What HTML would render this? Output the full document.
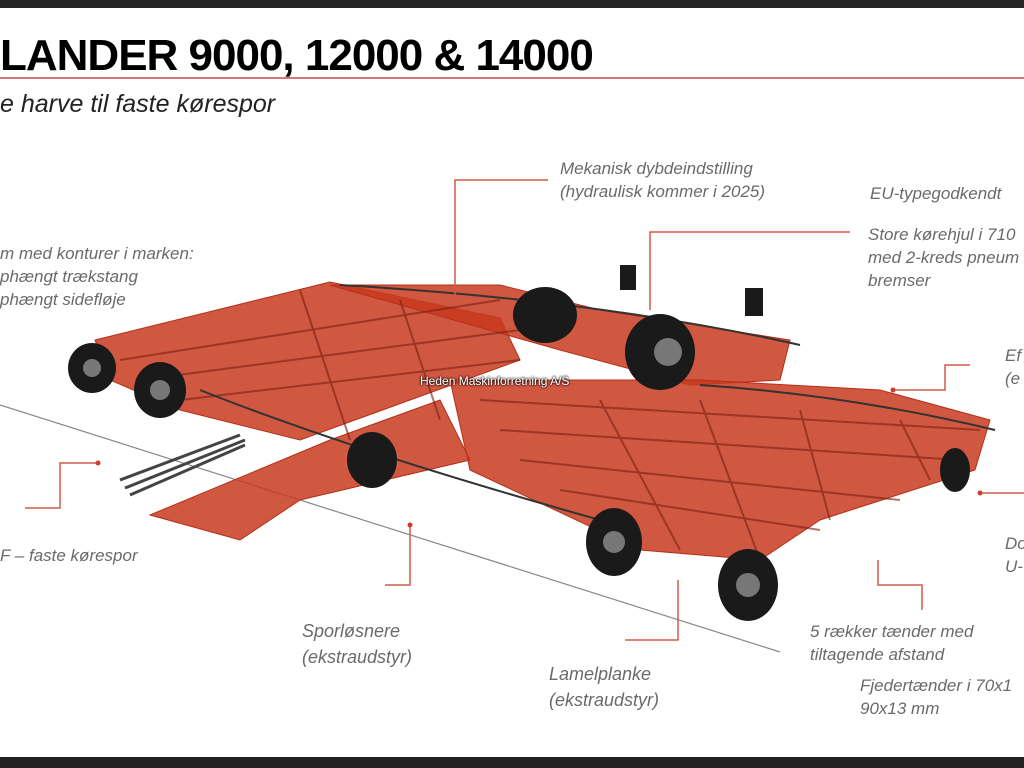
<!DOCTYPE html>
<html><head><meta charset="utf-8"><style>
html,body{margin:0;padding:0;}
body{width:1024px;height:768px;position:relative;overflow:hidden;background:#fff;font-family:"Liberation Sans",sans-serif;}
.t{position:absolute;font-style:italic;color:#6a6a6a;font-size:17px;line-height:23px;white-space:nowrap;}
</style></head><body>
<div style="position:absolute;left:0;top:0;width:1024px;height:8px;background:#262626"></div>
<div style="position:absolute;left:0;top:757px;width:1024px;height:11px;background:#222"></div>
<div style="position:absolute;left:0;top:31px;font-weight:bold;font-size:44px;color:#000;letter-spacing:-1px">LANDER 9000, 12000 &amp; 14000</div>
<div style="position:absolute;left:0;top:77px;width:1024px;height:2px;background:#d8737a"></div>
<div style="position:absolute;left:0;top:90px;font-style:italic;font-size:25px;color:#222">e harve til faste kørespor</div>

<svg width="1024" height="768" style="position:absolute;left:0;top:0">
<line x1="0" y1="405" x2="780" y2="652" stroke="#888" stroke-width="1.2"/>
<g fill="#c8391f" stroke="#b53019" fill-opacity="0.85">
<polygon points="95,340 330,282 500,318 520,360 300,440 180,410 110,380"/>
<polygon points="330,285 500,285 600,310 790,340 780,380 690,385 560,350" />
<polygon points="450,380 700,380 880,390 990,420 975,470 820,520 760,560 640,550 470,470"/>
<polygon points="150,515 330,440 440,400 470,460 300,500 240,540"/>
</g>
<g stroke="#7a1f10" stroke-width="2" fill="none" opacity="0.6">
<path d="M120,360 L500,300 M140,380 L520,330 M180,400 L520,360 M480,400 L980,430 M500,430 L960,460 M520,460 L900,500 M560,490 L820,530"/>
<path d="M300,290 L350,440 M400,300 L440,420 M600,400 L680,550 M700,400 L760,560 M800,410 L830,520 M900,420 L930,480"/>
</g>
<g stroke="#333" stroke-width="2" fill="none">
<path d="M340,285 Q600,300 800,345 M700,385 Q850,395 995,430 M200,390 Q350,450 600,520"/>
</g>
<g fill="#1a1a1a">
<ellipse cx="92" cy="368" rx="24" ry="25"/><ellipse cx="160" cy="390" rx="26" ry="28"/>
<ellipse cx="545" cy="315" rx="32" ry="28"/><ellipse cx="660" cy="352" rx="35" ry="38"/>
<ellipse cx="372" cy="460" rx="25" ry="28"/><ellipse cx="614" cy="542" rx="28" ry="34"/>
<ellipse cx="748" cy="585" rx="30" ry="36"/><ellipse cx="955" cy="470" rx="15" ry="22"/>
<rect x="620" y="265" width="16" height="25"/><rect x="745" y="288" width="18" height="28"/>
</g>
<g fill="#777"><circle cx="92" cy="368" r="9"/><circle cx="160" cy="390" r="10"/><circle cx="614" cy="542" r="11"/><circle cx="748" cy="585" r="12"/><circle cx="668" cy="352" r="14"/></g>
<path d="M120,480 L240,435 M125,488 L245,440 M130,495 L245,445" stroke="#444" stroke-width="3"/>
<g stroke="#d25a4c" stroke-width="1.5" fill="none">
<path d="M548,180 H455 V300"/>
<path d="M850,232 H650 V310"/>
<path d="M970,365 H945 V390 H893"/>
<path d="M98,463 H60 V508 H25"/>
<path d="M410,525 V585 H385"/>
<path d="M678,580 V640 H625"/>
<path d="M878,560 V585 H922 V610"/>
<path d="M1024,493 H980"/>
</g>
<g fill="#d23a2a"><circle cx="98" cy="463" r="2.5"/><circle cx="893" cy="390" r="2.5"/><circle cx="980" cy="493" r="2.5"/><circle cx="410" cy="525" r="2.5"/></g>
</svg>
<div style="position:absolute;left:420px;top:374px;font-size:12px;color:#fff;text-shadow:0 0 2px #000,0 0 2px #000">Heden Maskinforretning A/S</div>

<div class="t" style="left:560px;top:157px">Mekanisk dybdeindstilling<br>(hydraulisk kommer i 2025)</div>
<div class="t" style="left:870px;top:182px">EU-typegodkendt</div>
<div class="t" style="left:868px;top:223px">Store kørehjul i 710<br>med 2-kreds pneum<br>bremser</div>
<div class="t" style="left:1005px;top:344px">Ef<br>(e</div>
<div class="t" style="left:0;top:242px">m med konturer i marken:<br>phængt trækstang<br>phængt sidefløje</div>
<div class="t" style="left:0;top:544px">F – faste kørespor</div>
<div class="t" style="left:302px;top:618px;font-size:18px;line-height:26px">Sporløsnere<br>(ekstraudstyr)</div>
<div class="t" style="left:549px;top:661px;font-size:18px;line-height:26px">Lamelplanke<br>(ekstraudstyr)</div>
<div class="t" style="left:810px;top:620px">5 rækker tænder med<br>tiltagende afstand</div>
<div class="t" style="left:860px;top:674px">Fjedertænder i 70x1<br>90x13 mm</div>
<div class="t" style="left:1005px;top:532px">Do<br>U-</div>
</body></html>
